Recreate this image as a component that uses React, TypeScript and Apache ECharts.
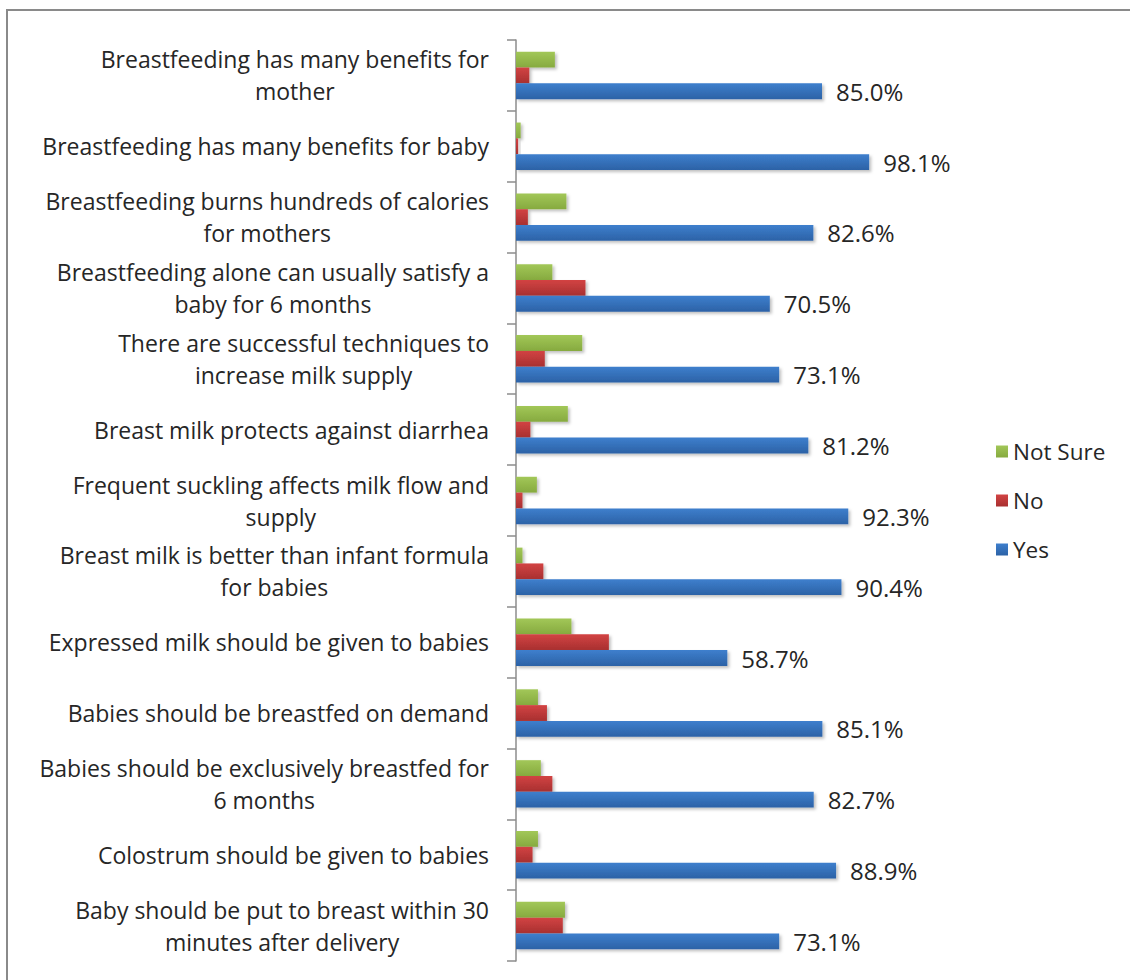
import React, { useEffect, useRef } from "react";
import * as echarts from "echarts";

const categories: string[] = [
  "Breastfeeding has many benefits for\nmother",
  "Breastfeeding has many benefits for baby",
  "Breastfeeding burns hundreds of calories\nfor mothers",
  "Breastfeeding alone can usually satisfy a\nbaby for 6 months",
  "There are successful techniques to\nincrease milk supply",
  "Breast milk protects against diarrhea",
  "Frequent suckling affects milk flow and\nsupply",
  "Breast milk is better than infant formula\nfor babies",
  "Expressed milk should be given to babies",
  "Babies should be breastfed on demand",
  "Babies should be exclusively breastfed for\n6 months",
  "Colostrum should be given to babies",
  "Baby should be put to breast within 30\nminutes after delivery",
];

const yesValues: number[] = [85.0, 98.1, 82.6, 70.5, 73.1, 81.2, 92.3, 90.4, 58.7, 85.1, 82.7, 88.9, 73.1];
const noValues: number[] = [3.7, 0.6, 3.3, 19.3, 8.0, 4.0, 1.8, 7.6, 25.8, 8.6, 10.1, 4.6, 13.0];
const notSureValues: number[] = [10.8, 1.3, 14.0, 10.1, 18.4, 14.4, 5.8, 1.8, 15.4, 6.1, 6.9, 6.1, 13.6];

const seriesNames: string[] = ["Not Sure", "No", "Yes"];

const FONT = "'Open Sans', 'Liberation Sans', sans-serif";
const TEXT = "#262626";

function grad(top: string, bottom: string) {
  return new echarts.graphic.LinearGradient(0, 0, 0, 1, [
    { offset: 0, color: top },
    { offset: 1, color: bottom },
  ]);
}

export default function App() {
  const ref = useRef<HTMLDivElement>(null);

  useEffect(() => {
    if (!ref.current) return;
    const chart = echarts.init(ref.current, undefined, { renderer: "svg" });
    const shadow = {
      shadowBlur: 3,
      shadowOffsetX: 2,
      shadowOffsetY: 2,
      shadowColor: "rgba(0,0,0,0.25)",
    };
    chart.setOption({
      animation: false,
      backgroundColor: "#ffffff",
      graphic: [
        {
          type: "rect",
          shape: { x: 7, y: 10, width: 1200, height: 1100 },
          style: { fill: "none", stroke: "#8a8a8a", lineWidth: 2 },
          silent: true,
        },
      ],
      grid: { left: 516, right: 254, top: 40, bottom: 19 },
      xAxis: {
        type: "value",
        min: 0,
        max: 100,
        show: false,
        splitLine: { show: false },
      },
      yAxis: {
        type: "category",
        inverse: true,
        data: categories,
        axisLine: { show: true, lineStyle: { color: "#8c8c8c", width: 1.5 } },
        axisTick: { show: true, length: 9, interval: 0, lineStyle: { color: "#8c8c8c", width: 1.5 } },
        axisLabel: {
          interval: 0,
          margin: 27,
          align: "right",
          formatter: (v: string) =>
            v
              .split("\n")
              .map((l) => `{c|${l}}`)
              .join("\n"),
          rich: {
            c: {
              align: "center",
              fontSize: 23,
              lineHeight: 32,
              fontFamily: FONT,
              color: TEXT,
            },
          },
        },
        splitLine: { show: false },
      },
      legend: {
        orient: "vertical",
        left: 991,
        top: 435,
        icon: "rect",
        itemWidth: 12,
        itemHeight: 12,
        itemGap: 26,
        data: seriesNames,
        textStyle: { fontSize: 22.5, fontFamily: FONT, color: TEXT },
      },
      series: [
        {
          name: "Not Sure",
          type: "bar",
          data: notSureValues,
          barGap: "0%",
          barCategoryGap: "33%",
          itemStyle: { color: grad("#a2c758", "#86aa3f"), ...shadow },
        },
        {
          name: "No",
          type: "bar",
          data: noValues,
          barGap: "0%",
          barCategoryGap: "33%",
          itemStyle: { color: grad("#d24343", "#a83030"), ...shadow },
        },
        {
          name: "Yes",
          type: "bar",
          data: yesValues,
          barGap: "0%",
          barCategoryGap: "33%",
          itemStyle: { color: grad("#3e7fcd", "#2c62a6"), ...shadow },
          label: {
            show: true,
            position: "right",
            distance: 14,
            fontSize: 24,
            fontFamily: FONT,
            color: TEXT,
            formatter: (p: any) => `${Number(p.value).toFixed(1)}%`,
          },
        },
      ],
    });
    return () => chart.dispose();
  }, []);

  return (
    <div
      ref={ref}
      style={{ position: "absolute", left: 0, top: 0, width: 1130, height: 980 }}
    />
  );
}
